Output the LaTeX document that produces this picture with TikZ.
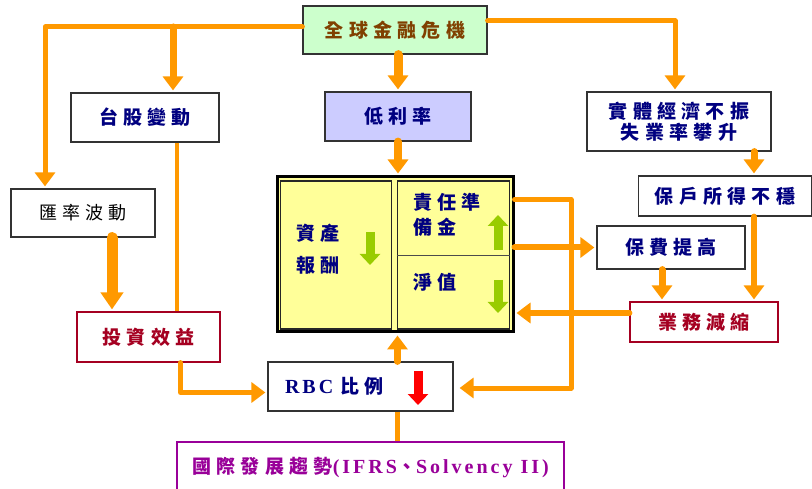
\documentclass[tikz,border=0pt]{standalone}
\usepackage{fontspec}
\setmainfont{Liberation Serif}
\newfontfamily\cjk{Noto Sans CJK TC}[LetterSpace=28]
\newfontfamily\lat{Liberation Serif}[LetterSpace=15]
\newcommand\latin[1]{{\lat\fontsize{20}{21}\selectfont #1}}
\usetikzlibrary{arrows.meta}
\definecolor{flow}{HTML}{FF9900}
\definecolor{navy}{HTML}{000080}
\definecolor{umber}{HTML}{804000}
\definecolor{wine}{HTML}{A50021}
\definecolor{plum}{HTML}{990099}
\definecolor{mint}{HTML}{CCFFCC}
\definecolor{lilac}{HTML}{CCCCFF}
\definecolor{paper}{HTML}{FFFF99}
\definecolor{leaf}{HTML}{99CC00}
\definecolor{alert}{HTML}{FF0000}

\begin{document}
\begin{tikzpicture}[x=1pt,y=-1pt,
  box/.style={draw=black!80,line width=1.2pt,fill=white,inner sep=0pt,text=navy,
    font=\cjk\bfseries\fontsize{19}{21}\selectfont},
  conn/.style={draw=flow,line width=5pt,line join=round,line cap=round},
  arr/.style={conn,-{Triangle[width=20pt,length=14pt]},shorten >=2pt},
  icon/.style={line width=9pt,-{Triangle[width=20pt,length=11pt]}},
  cell/.style={draw=black!85,line width=1.5pt,inner sep=0pt},
  label/.style={anchor=north west,inner sep=0pt,align=left,text=navy}]
\useasboundingbox (0,0) rectangle (812,489);

\node[box,fill=mint,text=umber,minimum width=184pt,minimum height=48pt] (crisis) at (395,30) {全球金融危機};
\node[box,minimum width=148pt,minimum height=49pt] (stock) at (145,117.5) {台股變動};
\node[box,fill=lilac,minimum width=146pt,minimum height=49pt] (rate) at (398,116.5) {低利率};
\node[box,align=center,minimum width=184pt,minimum height=59pt] (econ) at (679,121.5) {實體經濟不振\\失業率攀升};
\node[box,text=black,font=\cjk\fontsize{18}{20}\selectfont,minimum width=144pt,minimum height=48pt] (fx) at (83,213) {匯率波動};
\node[box,minimum width=173pt,minimum height=40pt] (income) at (725,196) {保戶所得不穩};
\node[box,minimum width=148pt,minimum height=43pt] (premium) at (671,247.5) {保費提高};
\node[box,draw=wine,text=wine,minimum width=148pt,minimum height=40pt] (shrink) at (704,322) {業務減縮};
\node[box,draw=wine,text=wine,minimum width=143pt,minimum height=50pt] (invest) at (148.5,337) {投資效益};
\node[box,minimum width=185pt,minimum height=49pt,text width=151pt,align=left,inner xsep=17pt] (rbc) at (360.5,386.5) {\latin{RBC}\hspace{7pt}比例};
\node[box,draw=plum,text=plum,minimum width=387pt,minimum height=50pt] (intl) at (370.5,467) {國際發展趨勢\latin{(IFRS}、\latin{Solvency II)}};

\node[draw=black,line width=3pt,fill=paper,minimum width=236pt,minimum height=155pt,inner sep=0pt] (bal) at (395,254.5) {};
\node[cell,minimum width=111pt,minimum height=148pt] (asset) at (336,255) {};
\node[cell,minimum width=112pt,minimum height=148pt] (liab) at (453.5,255) {};
\draw[line width=0.8pt,black!70] (liab.west) -- (liab.east);
\node[label,font=\cjk\bfseries\fontsize{19}{32}\selectfont] (assettxt) at (296,224) {資產\\報酬};
\node[label,font=\cjk\bfseries\fontsize{19}{25}\selectfont] (reservetxt) at (413,193) {責任準\\備金};
\node[label,font=\cjk\bfseries\fontsize{19}{25}\selectfont] (equitytxt) at (413,273) {淨值};
\draw[icon,draw=leaf] (370,232) -- (370,265);
\draw[icon,draw=leaf] (498,250) -- (498,215);
\draw[icon,draw=leaf] (498,280) -- (498,313);
\draw[icon,draw=alert] (418,371) -- (418,405);

\coordinate (split) at ([yshift=3pt]crisis.west);
\coordinate (fxin) at ([xshift=-38pt]fx.north);
\coordinate (stockin) at ([xshift=28pt]stock.north);
\draw[arr] (split) -| (fxin);
\draw[arr,line width=7pt] (stockin |- split) -- (stockin);
\draw[arr,line width=9pt] (crisis.south -| rate.north) -- (rate.north);
\draw[arr] ([yshift=9pt]crisis.east) -| ([xshift=-4pt]econ.north);
\draw[arr,line width=8pt] (rate.south) -- (rate.south |- bal.north);
\coordinate (econout) at ([xshift=75pt]econ.south);
\draw[arr,line width=7pt] (econout) -- (econout |- income.north);
\coordinate (fxout) at ([xshift=29pt]fx.south);
\draw[arr,line width=11pt,-{Triangle[width=22pt,length=17pt]}] (fxout) -- (fxout |- invest.north);
\coordinate (stockout) at ([xshift=32pt]stock.south);
\draw[conn,line width=4pt,line cap=butt] (stockout) -- (stockout |- invest.north);
\coordinate (investout) at ([xshift=32pt]invest.south);
\draw[arr] (investout) |- ([yshift=-6pt]rbc.west);
\coordinate (rbcout) at ([xshift=37pt]rbc.north);
\draw[arr,line width=7pt] (rbcout) -- (rbcout |- bal.south);
\coordinate (intlout) at ([xshift=27pt]intl.north);
\draw[conn,line cap=butt] (intlout) -- (intlout |- rbc.south);
\coordinate (bend) at (571,388);
\draw[arr,shorten >=6pt] ([yshift=55pt]bal.east) -| (bend) -- (rbc.east |- bend);
\draw[arr,line width=6pt] (bal.east |- premium.west) -- (premium.west);
\coordinate (shrinkout) at ([yshift=9pt]shrink.west);
\draw[arr,line width=6pt] (shrinkout) -- (shrinkout -| bal.east);
\coordinate (premout) at ([xshift=-9pt]premium.south);
\draw[arr,line width=7pt] (premout) -- (premout |- shrink.north);
\coordinate (incomeout) at ([xshift=29pt]income.south);
\draw[arr,line width=6pt] (incomeout) -- (incomeout |- shrink.north);
\end{tikzpicture}
\end{document}
